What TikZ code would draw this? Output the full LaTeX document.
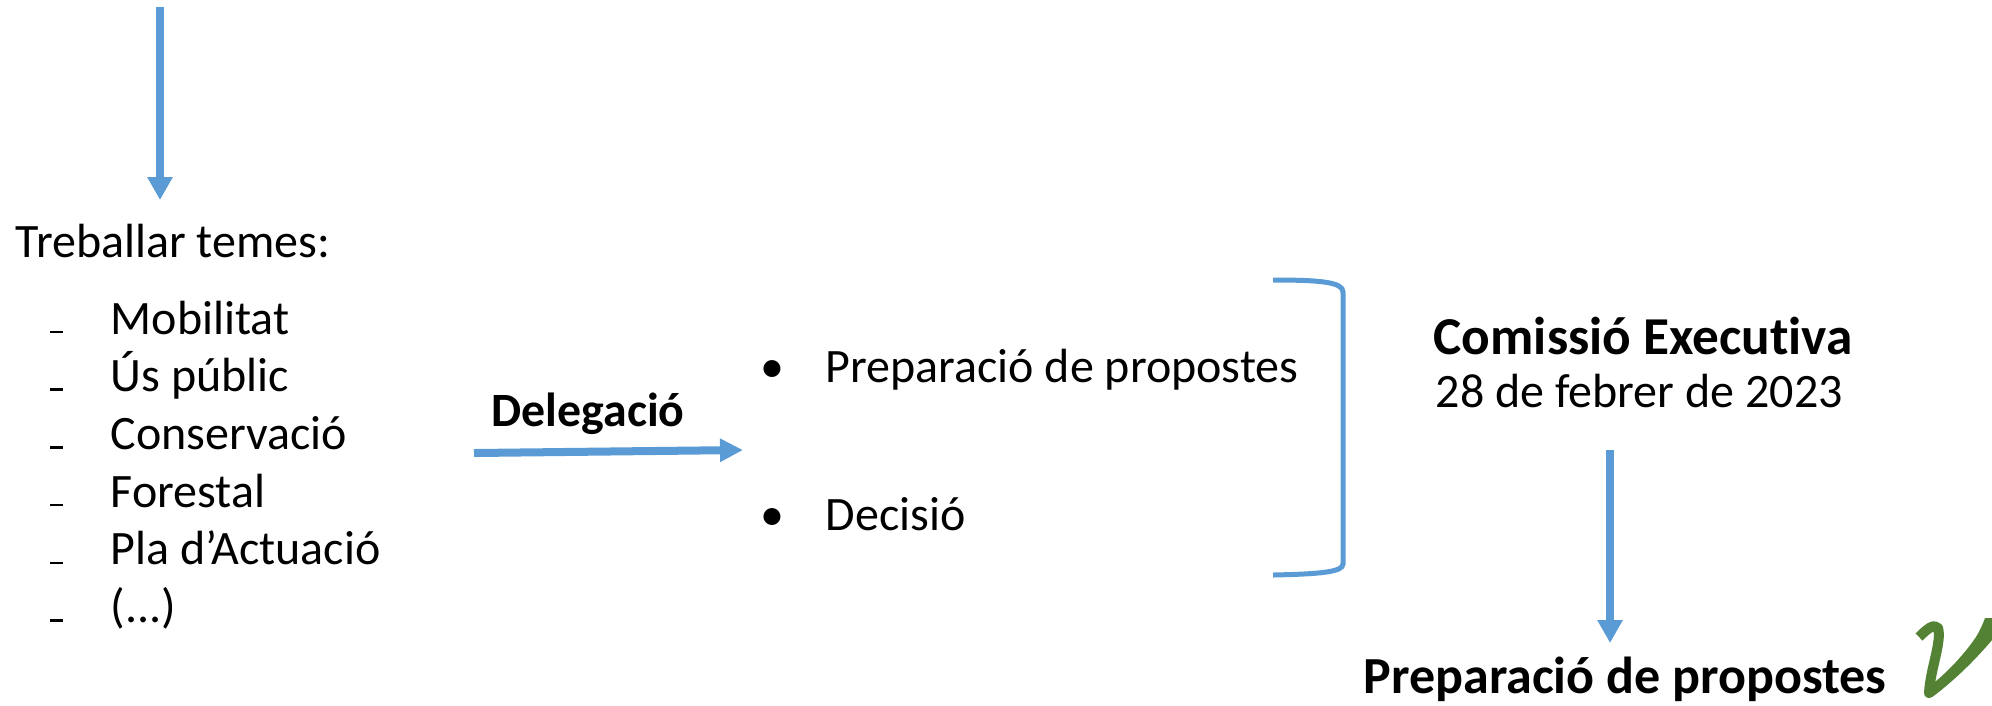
\documentclass[tikz,border=0pt]{standalone}
\usepackage{fontspec}
\setmainfont{Carlito}[Ligatures=NoCommon]
\usetikzlibrary{arrows.meta}

\definecolor{blau}{HTML}{5B9BD5}
\definecolor{verd}{HTML}{548235}

\tikzset{
	txt/.style={anchor=base west, inner sep=0pt, font=\fontsize{13.65pt}{16pt}\selectfont},
	txtb/.style={txt, font=\fontsize{13.6pt}{16pt}\selectfont\bfseries},
	txtgran/.style={txt, font=\fontsize{14.8pt}{18pt}\selectfont\bfseries},
	fletxa/.style={draw=blau, line width=0.08cm, -{Triangle[length=0.23cm,width=0.24cm]}},
}

\newcommand{\tema}[3]{
	\node[txt] (#1) at (110,#2) {#3};
	\draw[line width=0.025cm] (50,#2-2) -- (63,#2-2);
}

\begin{document}
\begin{tikzpicture}[x=0.01cm,y=-0.01cm]
\useasboundingbox (0,0) rectangle (1992,705);

\pgfmathsetmacro{\tmA}{334}
\pgfmathsetmacro{\tmPas}{57.7}

\coordinate (dalt) at (160,7);
\coordinate (dalt2) at (160,200);
\draw[fletxa] (dalt) -- (dalt2);

\node[txt] (treb) at (15,257) {Treballar temes:};
\tema{mob}{\tmA}{Mobilitat}
\tema{us}{\tmA+\tmPas}{Ús públic}
\tema{cons}{\tmA+2*\tmPas}{Conservació}
\tema{fore}{\tmA+3*\tmPas}{Forestal}
\tema{pla}{\tmA+4*\tmPas}{Pla d’Actuació}
\tema{etc}{\tmA+5*\tmPas}{(...)}

\node[txtb] (deleg) at (491,426) {Delegació};
\coordinate (dlA) at (474,453);
\coordinate (dlB) at (743,450);
\draw[fletxa, -{Triangle[length=0.23cm,width=0.22cm]}] (dlA) -- (dlB);

\node[txt, anchor=base] (bul1) at (772,382) {\textbullet};
\node[txt] (prep) at (825,382) {Preparació de propostes};
\node[txt, anchor=base] (bul2) at (772,530) {\textbullet};
\node[txt] (dec) at (825,530) {Decisió};

\draw[blau, line width=0.05cm] (1273,280) .. controls (1320,280) and (1343,282) .. (1343,292)
	-- (1343,564) .. controls (1343,572) and (1320,574) .. (1273,575);

\node[txtgran, font=\fontsize{15.15pt}{18pt}\selectfont\bfseries] (com) at (1433,354) {Comissió Executiva};
\node[txt] (data) at (1435,407) {28 de febrer de 2023};
\coordinate (cmA) at (1610,450);
\coordinate (cmB) at (1610,643);
\draw[fletxa] (cmA) -- (cmB);

\node[txtgran] (prep2) at (1363,693) {Preparació de propostes};

\draw[verd, line width=0.1cm, line join=round] (1919,637) .. controls (1927,629) and (1934,623) .. (1938,628)
	.. controls (1942,642) and (1930,670) .. (1929,693)
	.. controls (1952,676) and (1976,650) .. (1991,622);
\fill[verd] (1929,693) .. controls (1955,670) and (1975,645) .. (1985,618) -- (1992,618) -- (1992,640)
	.. controls (1975,660) and (1955,680) .. (1932,697) -- cycle;
\end{tikzpicture}
\end{document}
